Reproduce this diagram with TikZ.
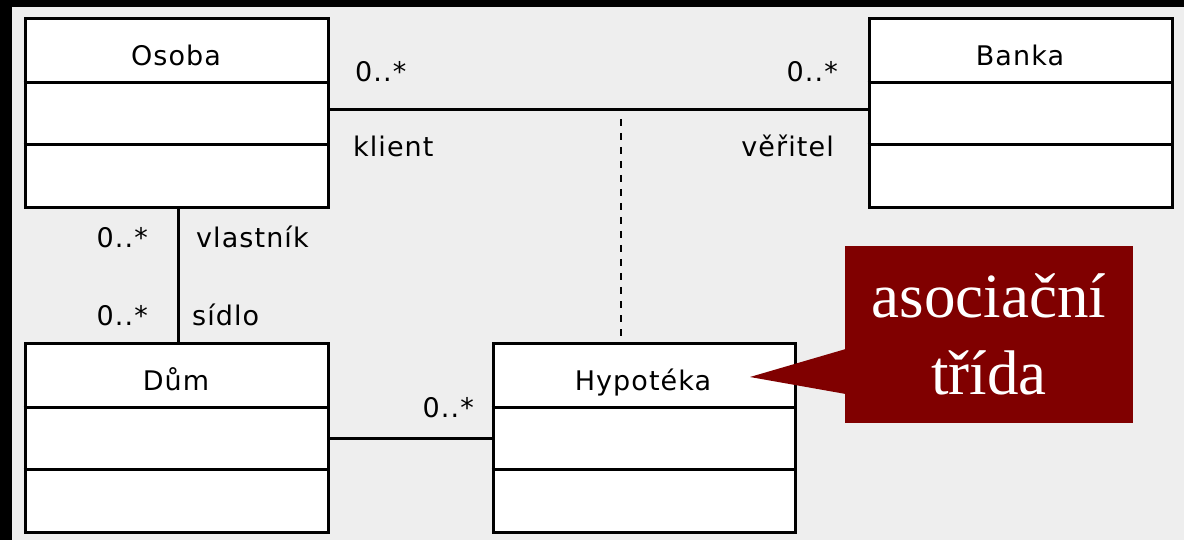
\documentclass[tikz,border=0pt]{standalone}
\usepackage{fontspec}
\setmainfont{Liberation Serif}
\newfontfamily\umlfont[LetterSpace=4]{DejaVu Sans}
\definecolor{canvas}{HTML}{EEEEEE}
\definecolor{notered}{HTML}{800000}

\begin{document}
\begin{tikzpicture}[x=1pt,y=-1pt,
  umlbox/.style={draw=black, fill=white, line width=3pt, inner sep=0pt,
    minimum width=303pt, minimum height=189pt},
  divider/.style={line width=3pt},
  umltext/.style={font=\umlfont\fontsize{27}{31}\selectfont, inner sep=0pt},
  link/.style={line width=3pt},
  notebox/.style={fill=notered, text=white, align=center, inner sep=0pt,
    minimum width=288pt, minimum height=177pt,
    font=\fontsize{63}{77}\selectfont}
  ]
  % frame and canvas
  \fill[black] (0,0) rectangle (1184,540);
  \fill[canvas] (12,7) rectangle (1184,540);
  \useasboundingbox (0,0) rectangle (1184,540);

  % class boxes
  \node[umlbox] (osoba) at (176.5,113.5) {};
  \node[umlbox] (banka) at (1020.5,113.5) {};
  \node[umlbox] (dum)   at (176.5,438) {};
  \node[umlbox, minimum width=302pt] (hyp) at (644,438) {};

  % compartments
  \foreach \c in {osoba,banka,dum,hyp}{
    \draw[divider] ([yshift=-65pt]\c.north west) -- ([yshift=-65pt]\c.north east);
    \draw[divider] ([yshift=-127pt]\c.north west) -- ([yshift=-127pt]\c.north east);
  }

  % class names
  \node[umltext, anchor=base] (osobaname) at (176,66) {Osoba};
  \node[umltext, anchor=base] (bankaname) at (1020,66) {Banka};
  \node[umltext, anchor=base] (dumname)   at (176,390) {Dům};
  \node[umltext, anchor=base] (hypname)   at (643,390) {Hypotéka};

  % associations
  \draw[link] ([yshift=3.5pt]osoba.east) -- ([yshift=3.5pt]banka.west);
  \draw[link] ([xshift=1.5pt]osoba.south) -- ([xshift=1.5pt]dum.north);
  \draw[link] (dum.east) -- (hyp.west);

  % association class link
  \coordinate (assoc) at (621,119);
  \draw[line width=2pt, dash pattern=on 7pt off 7pt] (assoc) -- (assoc |- hyp.north);

  % role names and multiplicities
  \node[umltext, anchor=base west] (m1) at (355,82) {0..*};
  \node[umltext, anchor=base west] (r1) at (353,157) {klient};
  \node[umltext, anchor=base east] (m2) at (838,82) {0..*};
  \node[umltext, anchor=base east] (r2) at (834,157) {věřitel};
  \node[umltext, anchor=base east] (m3) at (148,248) {0..*};
  \node[umltext, anchor=base west] (r3) at (196,248) {vlastník};
  \node[umltext, anchor=base east] (m4) at (148,325) {0..*};
  \node[umltext, anchor=base west] (r4) at (192,325) {sídlo};
  \node[umltext, anchor=base east] (m5) at (474,417) {0..*};

  % callout
  \node[notebox] (note) at (989,334.5) {asociační\\třída};
  \coordinate (tip) at (750,377);
  \fill[notered] ([xshift=1pt,yshift=-14.5pt]note.west) -- (tip)
    -- ([xshift=1pt,yshift=-59.5pt]note.west) -- cycle;
\end{tikzpicture}
\end{document}
